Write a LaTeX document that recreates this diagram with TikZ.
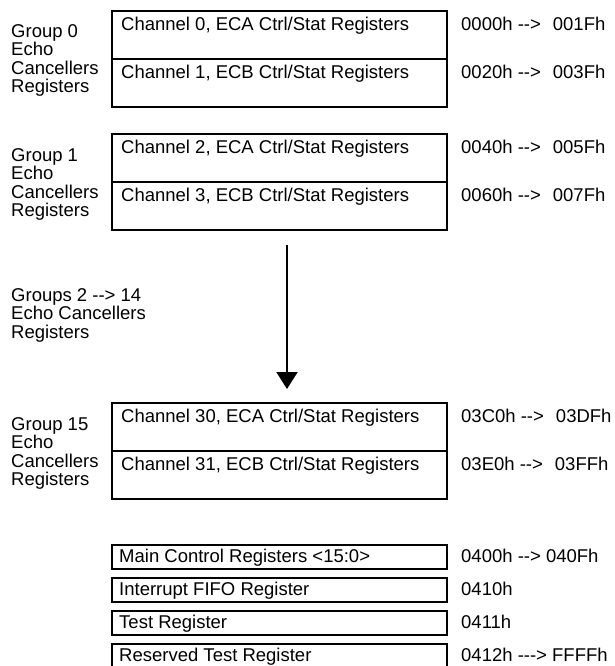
\documentclass[tikz,border=0pt]{standalone}
\usepackage{fontspec}
\setmainfont{Liberation Sans}
\usetikzlibrary{arrows.meta}
\newcommand{\myarr}{-\kern0pt-\kern0pt>}
\newcommand{\myarrl}{-\kern0pt-\kern0pt-\kern0pt>}
\begin{document}
\begin{tikzpicture}[x=1pt,y=-1pt,
  half/.style={draw, line width=2pt, rectangle, minimum width=335pt, minimum height=48pt, inner sep=0pt, anchor=north west},
  small/.style={draw, line width=2pt, rectangle, minimum width=335pt, minimum height=24pt, inner sep=0pt, anchor=north west},
  txt/.style={anchor=base west, inner sep=0pt, font=\fontsize{18.5}{20}\selectfont}]
\useasboundingbox (0,0) rectangle (614,666);
\begin{scope}
\clip (0,0) rectangle (614,666);
% Group 0 (T=10)
\node[half] (b0) at (111,10) {};
\node[half] (b1) at (111,58) {};
\node[txt] (t0) at (121,30.5) {Channel 0, ECA Ctrl/Stat Registers};
\node[txt] (t1) at (121,78.5) {Channel 1, ECB Ctrl/Stat Registers};
\node[txt] (a0) at (461,30.5) {0000h \myarr\hspace{12pt}001Fh};
\node[txt] (a1) at (461,78.5) {0020h \myarr\hspace{12pt}003Fh};
\node[txt] (g0a) at (11,38) {Group 0};
\node[txt] (g0b) at (11,56) {Echo};
\node[txt] (g0c) at (11,75) {Cancellers};
\node[txt] (g0d) at (11,93) {Registers};
% Group 1 (T=133)
\node[half] (b2) at (111,133) {};
\node[half] (b3) at (111,181) {};
\node[txt] (t2) at (121,153.5) {Channel 2, ECA Ctrl/Stat Registers};
\node[txt] (t3) at (121,201.5) {Channel 3, ECB Ctrl/Stat Registers};
\node[txt] (a2) at (461,153.5) {0040h \myarr\hspace{12pt}005Fh};
\node[txt] (a3) at (461,201.5) {0060h \myarr\hspace{12pt}007Fh};
\node[txt] (g1a) at (11,161) {Group 1};
\node[txt] (g1b) at (11,179) {Echo};
\node[txt] (g1c) at (11,198) {Cancellers};
\node[txt] (g1d) at (11,216) {Registers};
% arrow
\coordinate (as) at (287,245);
\coordinate (ae) at (287,389);
\draw[line width=2pt, -{Triangle[length=17pt,width=21pt]}] (as) -- (ae);
\node[txt] (gma) at (11,301.5) {Groups 2 \myarr\ 14};
\node[txt] (gmb) at (11,319.5) {Echo Cancellers};
\node[txt] (gmc) at (11,338) {Registers};
% Group 15 (T=402)
\node[half] (b30) at (111,402) {};
\node[half] (b31) at (111,450) {};
\node[txt] (t30) at (121,422.5) {Channel 30, ECA Ctrl/Stat Registers};
\node[txt] (t31) at (121,470.5) {Channel 31, ECB Ctrl/Stat Registers};
\node[txt] (a30) at (461,422.5) {03C0h \myarr\hspace{12pt}03DFh};
\node[txt] (a31) at (461,470.5) {03E0h \myarr\hspace{12pt}03FFh};
\node[txt] (g15a) at (11,430) {Group 15};
\node[txt] (g15b) at (11,448) {Echo};
\node[txt] (g15c) at (11,467) {Cancellers};
\node[txt] (g15d) at (11,485) {Registers};
% small registers
\node[small] (m0) at (111,544) {};
\node[small] (m1) at (111,577) {};
\node[small] (m2) at (111,610) {};
\node[small, minimum height=25pt] (m3) at (111,643) {};
\node[txt] (s0) at (119,562.5) {Main Control Registers <15:0>};
\node[txt] (s1) at (119,595.5) {Interrupt FIFO Register};
\node[txt] (s2) at (119,628.5) {Test Register};
\node[txt] (s3) at (119,661.5) {Reserved Test Register};
\node[txt] (r0) at (461,562.5) {0400h \myarr\ 040Fh};
\node[txt] (r1) at (461,595.5) {0410h};
\node[txt] (r2) at (461,628.5) {0411h};
\node[txt] (r3) at (461,661.5) {0412h \myarrl\ FFFFh};
\end{scope}
\end{tikzpicture}
\end{document}
